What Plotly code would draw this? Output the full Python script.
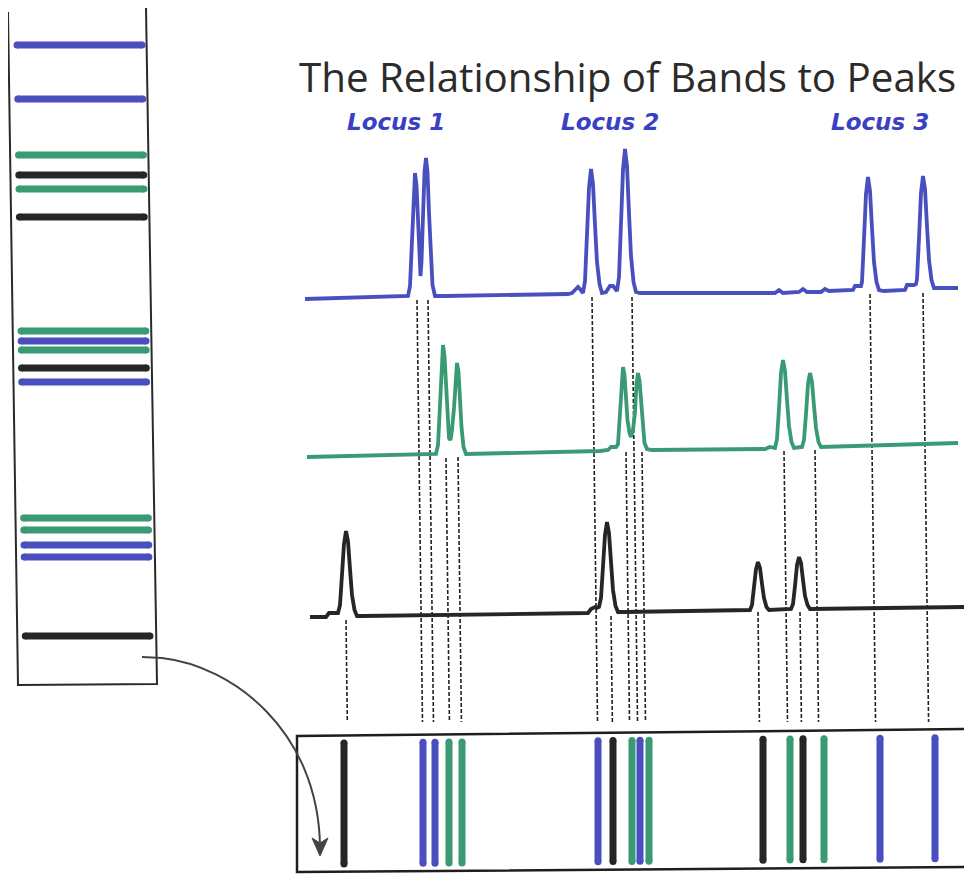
import plotly.graph_objects as go

BLUE = "#4a4fc0"
GREEN = "#3a9a74"
BLACK = "#262626"
DYE_COLOR = {"blue": BLUE, "green": GREEN, "black": BLACK}

# gel lane on the left: band positions (top -> bottom) and dye
lane_band_y = [45, 99, 155, 175, 189, 217, 331, 341, 350, 368, 382, 518, 530, 545, 557, 636]
lane_band_dye = ["blue", "blue", "green", "black", "green", "black",
                 "green", "blue", "green", "black", "blue",
                 "green", "green", "blue", "blue", "black"]

# electropherogram traces
blue_x = [305, 380, 408, 410, 412, 413.5, 415, 416.5, 418, 419.5, 420.5, 421.5, 423, 424.5, 426, 427.5,
          429, 430.5, 432.5, 435, 445,
          568, 572, 575, 578, 580, 582, 583, 585, 587, 589, 591, 593, 595, 597, 599.5, 602,
          606, 608, 610, 613, 615, 617, 619, 621, 623, 625, 627, 629, 631, 633.5, 636, 640,
          775, 779, 783, 799, 803, 807, 821, 825, 829, 853, 855, 861, 862, 864, 866, 868, 870, 872,
          874, 876.5, 879, 884, 905, 907, 914, 916, 917, 919, 921, 923, 925, 927, 929, 931.5,
          934, 958]
blue_y = [299, 297, 296, 286, 241, 191, 173, 185, 225, 262, 276, 262, 210, 172, 158, 172,
          213, 255, 285, 296, 296,
          294, 293, 290, 287, 289, 292, 293, 281, 237, 188, 169, 184, 225, 262, 284, 293,
          292, 288, 286, 286, 288, 291, 277, 228, 170, 149, 166, 213, 256, 282, 292, 293,
          293, 290, 293, 292, 289, 292, 292, 289, 291, 290, 286, 286, 282, 239, 194, 177, 191, 228,
          262, 282, 290, 291, 290, 285, 285, 284, 279, 238, 193, 176, 189, 226, 260, 280,
          288, 288]

green_x = [307, 420, 436, 438, 440, 441.5, 443, 444.5, 446, 447.5, 449, 450.5, 452, 454, 455.5, 457,
           458.5, 460, 461.5, 463.5, 466, 600, 608, 611, 616, 618, 620, 621.5, 623, 624.5, 626, 627.5,
           629.5, 631, 633, 635, 636.5, 638, 639.5, 641, 642.5, 644.5, 647, 652,
           765, 770, 775, 777, 779, 781, 783, 785, 787, 789, 791.5, 794, 802, 804, 806, 808,
           810, 812, 814, 816, 818.5, 821, 958]
green_y = [457, 455, 454, 445, 405, 362, 345, 356, 389, 421, 438, 440, 430, 408, 377, 363,
           372, 400, 427, 447, 454, 451, 450, 447, 447, 444, 412, 379, 367, 375, 400, 420,
           433, 437, 430, 412, 384, 373, 381, 403, 426, 443, 449, 450,
           449, 447, 448, 439, 408, 373, 360, 371, 400, 426, 442, 448, 447, 440, 414, 384,
           373, 382, 406, 428, 442, 447, 443]

black_x = [310, 326, 329, 335, 338, 340, 342, 344, 346, 348, 350, 352, 354.5, 357, 362,
           588, 591, 595, 597, 599, 601, 603, 605, 607, 609, 611, 613, 615.5, 618, 625,
           750, 752, 754, 756, 758, 760, 762, 764, 766.5, 769,
           791, 793, 795, 797, 799, 801, 803, 805, 807.5, 810, 965]
black_y = [617, 617, 613, 613, 613, 605, 578, 544, 531, 541, 569, 595, 610, 616, 616,
           613, 609, 607, 608, 607, 598, 571, 535, 522, 533, 562, 590, 606, 612, 612,
           610, 605, 588, 569, 562, 568, 584, 598, 607, 610,
           609, 604, 586, 565, 557, 563, 580, 596, 605, 609, 607]

# alleles: dye, x of the peak's guide line, where the guide starts, x of the band in the lower lane
allele_dye = ["black", "blue", "blue", "green", "green",
              "blue", "black", "green", "blue", "green",
              "black", "green", "black", "green", "blue", "blue"]
allele_peak_x = [346, 417, 428, 446, 458, 592, 611, 626, 632, 642, 758, 784, 800, 815, 870, 923]
allele_guide_y0 = [620, 300, 300, 458, 457, 297, 616, 452, 297, 452, 612, 451, 612, 450, 294, 293]
allele_lane_x = [344, 423, 435, 449, 462, 598, 613, 632, 640, 649, 763, 790, 803, 824, 880, 935]

locus_labels = ["Locus 1", "Locus 2", "Locus 3"]
locus_label_x = [396, 610, 880]

fig = go.Figure()

# dashed guide lines from each peak down to the lower lane
gx, gy = [], []
for x0, y0 in zip(allele_peak_x, allele_guide_y0):
    gx += [x0, x0 + 0.013 * (722 - y0), None]
    gy += [y0, 722, None]
fig.add_trace(go.Scatter(x=gx, y=gy, mode="lines",
                         line=dict(color="#222", width=1.6, dash="4px,2px")))

# traces
for xs, ys, c in [(blue_x, blue_y, BLUE), (green_x, green_y, GREEN), (black_x, black_y, BLACK)]:
    fig.add_trace(go.Scatter(x=xs, y=ys, mode="lines", line=dict(color=c, width=3.8)))

# gel lane bands (horizontal)
for dye, c in DYE_COLOR.items():
    bx, by = [], []
    for y, d in zip(lane_band_y, lane_band_dye):
        if d != dye:
            continue
        bx += [17 + 0.014 * (y - 45), 142 + 0.0135 * (y - 45), None]
        by += [y, y, None]
    fig.add_trace(go.Scatter(x=bx, y=by, mode="lines+markers",
                             line=dict(color=c, width=7), marker=dict(color=c, size=7)))

# lower lane bands (vertical)
for dye, c in DYE_COLOR.items():
    bx, by = [], []
    for x, d in zip(allele_lane_x, allele_dye):
        if d != dye:
            continue
        bx += [x, x, None]
        by += [743 - 0.009 * (x - 344), 864 - 0.009 * (x - 344), None]
    fig.add_trace(go.Scatter(x=bx, y=by, mode="lines+markers",
                             line=dict(color=c, width=7), marker=dict(color=c, size=7)))

outline = dict(color="#2a2a2a", width=2)
shapes = [
    dict(type="path", path="M 8,12 L 18,685 L 157,684 L 146,8", line=outline),
    dict(type="path", path="M 975,729 L 297,736 L 297,872 L 975,867", line=dict(color="#1e1e1e", width=2.5)),
    dict(type="path", path="M 142,657 L 162,658 C 232,666 318,730 320,846", line=dict(color="#444", width=2)),
    dict(type="path", path="M 312,838 L 320,856 L 328,838 L 320,843 Z",
         line=dict(color="#444", width=1), fillcolor="#444"),
]

annotations = [
    dict(x=297, y=76, text="The Relationship of Bands to Peaks", showarrow=False,
         xanchor="left", yanchor="middle",
         font=dict(family="Open Sans", size=40.3, color="#2b2b2b")),
]
for t, x in zip(locus_labels, locus_label_x):
    annotations.append(dict(x=x, y=122, text=f"<b><i>{t}</i></b>", showarrow=False,
                            xanchor="center", yanchor="middle",
                            font=dict(family="DejaVu Sans", size=23, color="#3a40c4")))

# the page body has an 8px margin, so the figure is 8px smaller and the ranges start at 8
fig.update_layout(
    width=964, height=866,
    margin=dict(l=0, r=0, t=0, b=0),
    paper_bgcolor="white", plot_bgcolor="white",
    showlegend=False, hovermode=False,
    xaxis=dict(range=[8, 972], visible=False, fixedrange=True),
    yaxis=dict(range=[874, 8], visible=False, fixedrange=True),
    shapes=shapes, annotations=annotations,
)

fig.write_html("out.html")
